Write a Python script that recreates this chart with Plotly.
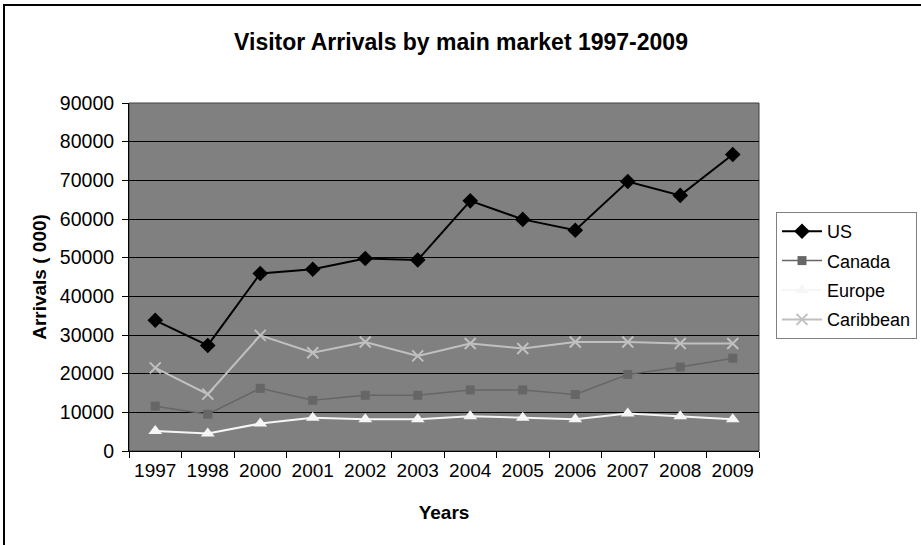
import plotly.graph_objects as go

years = ["1997", "1998", "2000", "2001", "2002", "2003", "2004", "2005", "2006", "2007", "2008", "2009"]
us = [33800, 27300, 45900, 47000, 49800, 49400, 64700, 59900, 57100, 69700, 66100, 76700]
canada = [11600, 9500, 16200, 13100, 14400, 14400, 15800, 15800, 14600, 19800, 21700, 24000]
europe = [5200, 4500, 7100, 8600, 8200, 8200, 9000, 8600, 8200, 9700, 9000, 8200]
caribbean = [21500, 14700, 29900, 25400, 28200, 24600, 27800, 26500, 28200, 28200, 27800, 27800]

yticks = [0, 10000, 20000, 30000, 40000, 50000, 60000, 70000, 80000, 90000]

FONT = "Liberation Sans, Arial, sans-serif"

W, H = 921, 545
# plot box in screen pixels
PX0, PX1, PY0, PY1 = 129, 759, 103, 451
L = PX0
T = PY0
R = W - PX1
B = H - PY1


def px(x):
    return (x - PX0) / (PX1 - PX0)


def py(y):
    return (PY1 - y) / (PY1 - PY0)


fig = go.Figure()
fig.add_trace(go.Scatter(x=years, y=us, name="US", mode="lines+markers", legendgroup="a",
                         line=dict(color="black", width=2),
                         marker=dict(symbol="diamond", size=12, color="black")))
fig.add_trace(go.Scatter(x=years, y=canada, name="Canada", mode="lines+markers", legendgroup="b",
                         line=dict(color="#666666", width=1.5),
                         marker=dict(symbol="square", size=9, color="#666666")))
fig.add_trace(go.Scatter(x=years, y=europe, name="Europe", mode="lines+markers", legendgroup="c",
                         line=dict(color="#f6f6f6", width=2),
                         marker=dict(symbol="triangle-up", size=12, color="#f6f6f6")))
fig.add_trace(go.Scatter(x=years, y=caribbean, name="Caribbean", mode="lines+markers", legendgroup="d",
                         line=dict(color="#c0c0c0", width=2),
                         marker=dict(symbol="x-thin-open", size=11, color="#c0c0c0",
                                     line=dict(color="#c0c0c0", width=2))))

fig.update_layout(
    width=W, height=H,
    margin=dict(l=L, r=R, t=T, b=B, autoexpand=False),
    paper_bgcolor="white",
    plot_bgcolor="#808080",
    font=dict(family=FONT, size=19, color="black"),
    title=dict(text="<b>Visitor Arrivals by main market 1997-2009</b>",
               x=px(461), xref="paper", xanchor="center",
               y=1 - 42 / H, yanchor="middle",
               font=dict(family=FONT, size=23, color="black")),
    showlegend=True,
    legend=dict(x=px(776), y=py(212), xanchor="left", yanchor="top",
                bgcolor="white", bordercolor="#808080", borderwidth=1,
                font=dict(family=FONT, size=18, color="black"),
                itemwidth=40,
                traceorder="grouped", tracegroupgap=3),
    xaxis=dict(type="category", categoryorder="array", categoryarray=years,
               tickmode="array", tickvals=years, ticktext=years,
               range=[-0.5, 11.5], tickangle=0,
               tickson="boundaries", ticks="outside", ticklen=6, tickcolor="black",
               showline=True, linecolor="black", linewidth=1,
               showgrid=False, tickfont=dict(size=19), ticklabelstandoff=2,
               title=dict(text="<b>Years</b>", standoff=25, font=dict(size=19))),
    yaxis=dict(range=[0, 90000], tickmode="array", tickvals=yticks,
               ticktext=[str(v) for v in yticks],
               ticks="outside", ticklen=6, tickcolor="black",
               showline=True, linecolor="black", linewidth=1,
               showgrid=True, gridcolor="black", gridwidth=1, zeroline=False,
               tickfont=dict(size=19.5), ticklabelstandoff=4,
               title=dict(text="<b>Arrivals ( 000)</b>", standoff=8, font=dict(size=19))),
    shapes=[
        dict(type="rect", xref="paper", yref="paper", x0=0, x1=1, y0=0, y1=1,
             line=dict(color="#404040", width=1), layer="below"),
        dict(type="rect", xref="paper", yref="paper",
             x0=px(4), x1=px(940), y0=py(5), y1=py(570),
             line=dict(color="black", width=2), fillcolor="rgba(0,0,0,0)", layer="below"),
    ],
)

fig.write_html("out.html", config={"displayModeBar": False},
               post_script="document.body.style.margin='0';")
